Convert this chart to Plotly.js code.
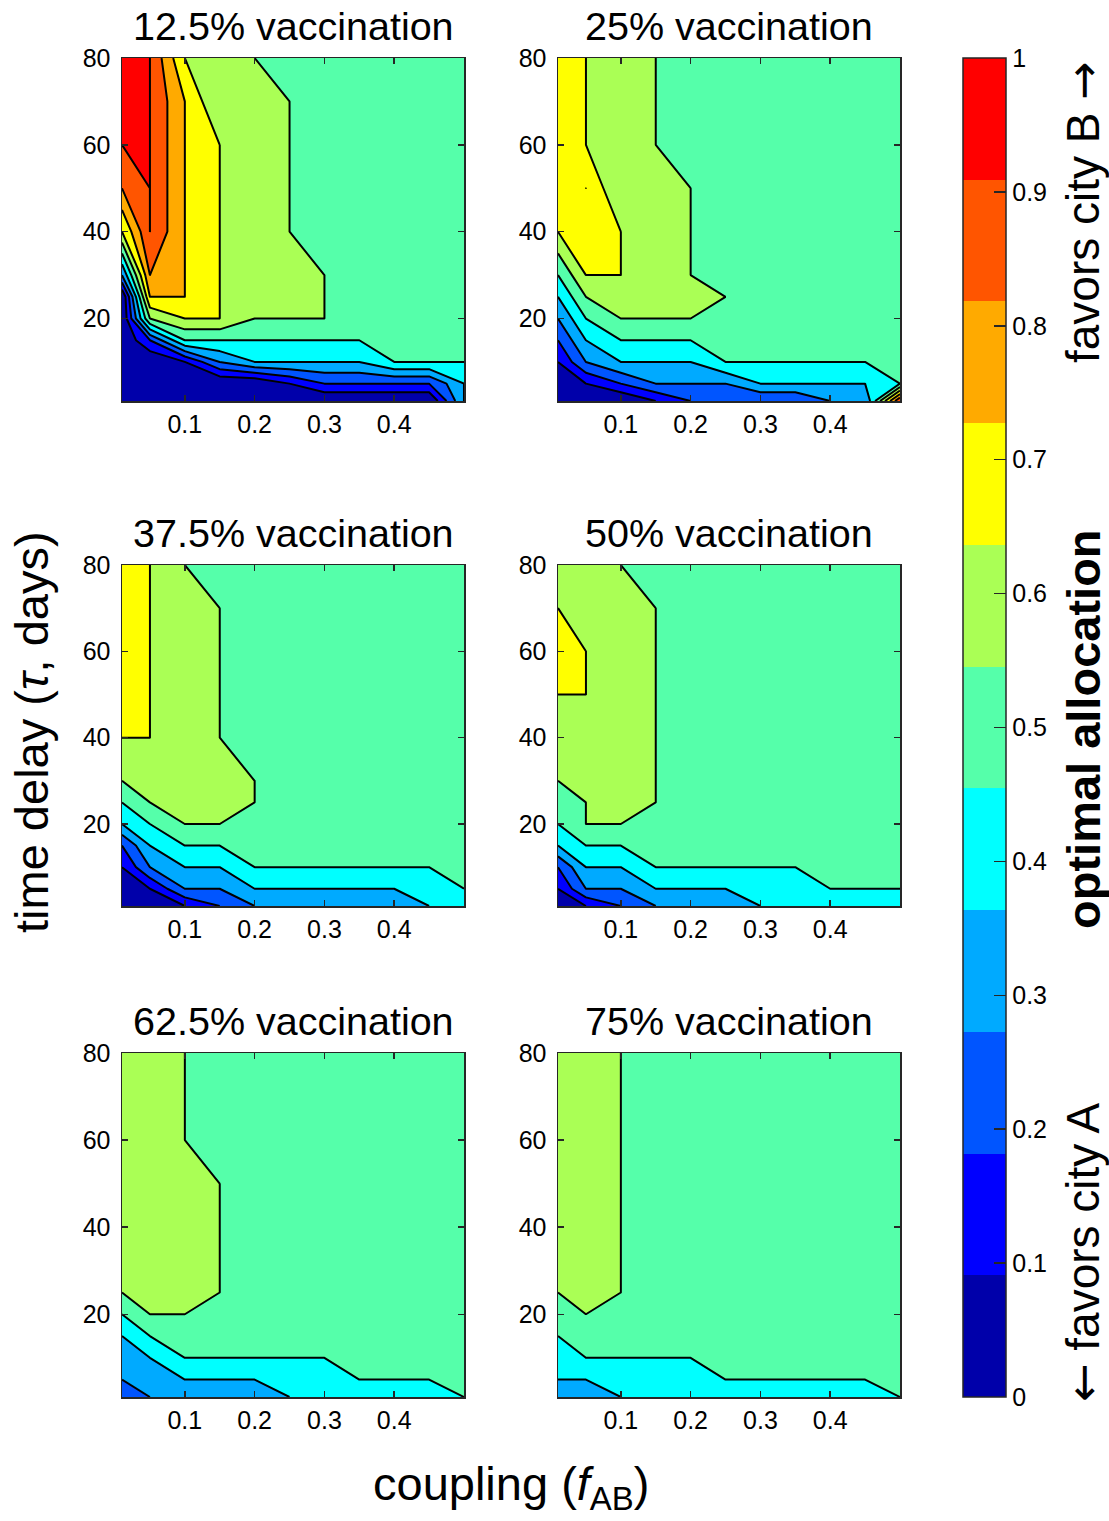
<!DOCTYPE html>
<html>
<head>
<meta charset="utf-8">
<script src="https://cdn.plot.ly/plotly-3.0.1.min.js"></script>
<style>html,body{margin:0;padding:0;background:#fff;}#chart{width:1109px;height:1521px;}</style>
</head>
<body>
<div id="chart"></div>
<script>
// grid: coupling f_AB (columns) and time delay tau in days (rows, bottom to top)
const coupling = [0.01, 0.05, 0.1, 0.15, 0.2, 0.25, 0.3, 0.35, 0.4, 0.45, 0.5];
const delay = [1, 5, 10, 15, 20, 25, 30, 40, 50, 60, 70, 80];
const panelTitles = ['12.5% vaccination', '25% vaccination', '37.5% vaccination', '50% vaccination', '62.5% vaccination', '75% vaccination'];
const cbTickVals = [0, 0.1, 0.2, 0.3, 0.4, 0.5, 0.6, 0.7, 0.8, 0.9, 1];
const cbTickText = ['0', '0.1', '0.2', '0.3', '0.4', '0.5', '0.6', '0.7', '0.8', '0.9', '1'];
const xTicks = [0.1, 0.2, 0.3, 0.4];
const yTicks = [20, 40, 60, 80];

// optimal allocation (rows: delay 1..80, columns: coupling 0.01..0.5)
const alloc125 = [
  [0,0,0,0,0,0,0,0,0,0,0.4],
  [0,0,0,0,0,0.1,0.2,0.2,0.2,0.2,0.4],
  [0,0,0.1,0.3,0.4,0.4,0.4,0.4,0.5,0.5,0.5],
  [0,0.2,0.5,0.5,0.5,0.5,0.5,0.5,0.5,0.5,0.5],
  [0,0.6,0.7,0.7,0.6,0.6,0.6,0.5,0.5,0.5,0.5],
  [0,0.8,0.8,0.7,0.6,0.6,0.6,0.5,0.5,0.5,0.5],
  [0.3,0.9,0.8,0.7,0.6,0.6,0.6,0.5,0.5,0.5,0.5],
  [0.7,1,0.8,0.7,0.6,0.6,0.5,0.5,0.5,0.5,0.5],
  [0.9,1,0.8,0.7,0.6,0.6,0.5,0.5,0.5,0.5,0.5],
  [1,1,0.8,0.7,0.6,0.6,0.5,0.5,0.5,0.5,0.5],
  [1,1,0.8,0.6,0.6,0.6,0.5,0.5,0.5,0.5,0.5],
  [1,1,0.7,0.6,0.6,0.5,0.5,0.5,0.5,0.5,0.5]
];
const alloc25 = [
  [0,0,0,0.1,0.2,0.2,0.2,0.2,0.3,0.3,1],
  [0,0.1,0.2,0.3,0.3,0.3,0.4,0.4,0.4,0.4,0.5],
  [0.1,0.3,0.4,0.4,0.4,0.5,0.5,0.5,0.5,0.5,0.5],
  [0.2,0.4,0.5,0.5,0.5,0.5,0.5,0.5,0.5,0.5,0.5],
  [0.3,0.5,0.6,0.6,0.6,0.5,0.5,0.5,0.5,0.5,0.5],
  [0.4,0.6,0.6,0.6,0.6,0.6,0.5,0.5,0.5,0.5,0.5],
  [0.5,0.7,0.7,0.6,0.6,0.5,0.5,0.5,0.5,0.5,0.5],
  [0.7,0.7,0.7,0.6,0.6,0.5,0.5,0.5,0.5,0.5,0.5],
  [0.7,0.8,0.6,0.6,0.6,0.5,0.5,0.5,0.5,0.5,0.5],
  [0.7,0.7,0.6,0.6,0.5,0.5,0.5,0.5,0.5,0.5,0.5],
  [0.7,0.7,0.6,0.6,0.5,0.5,0.5,0.5,0.5,0.5,0.5],
  [0.7,0.7,0.6,0.6,0.5,0.5,0.5,0.5,0.5,0.5,0.5]
];
const alloc375 = [
  [0,0,0.1,0.2,0.3,0.3,0.3,0.3,0.3,0.4,0.4],
  [0,0.1,0.3,0.3,0.4,0.4,0.4,0.4,0.4,0.4,0.5],
  [0.1,0.3,0.4,0.4,0.5,0.5,0.5,0.5,0.5,0.5,0.5],
  [0.2,0.4,0.5,0.5,0.5,0.5,0.5,0.5,0.5,0.5,0.5],
  [0.4,0.5,0.6,0.6,0.5,0.5,0.5,0.5,0.5,0.5,0.5],
  [0.5,0.6,0.6,0.6,0.6,0.5,0.5,0.5,0.5,0.5,0.5],
  [0.6,0.6,0.6,0.6,0.6,0.5,0.5,0.5,0.5,0.5,0.5],
  [0.7,0.7,0.6,0.6,0.5,0.5,0.5,0.5,0.5,0.5,0.5],
  [0.7,0.7,0.6,0.6,0.5,0.5,0.5,0.5,0.5,0.5,0.5],
  [0.7,0.7,0.6,0.6,0.5,0.5,0.5,0.5,0.5,0.5,0.5],
  [0.7,0.7,0.6,0.6,0.5,0.5,0.5,0.5,0.5,0.5,0.5],
  [0.7,0.7,0.6,0.5,0.5,0.5,0.5,0.5,0.5,0.5,0.5]
];
const alloc50 = [
  [0,0.1,0.2,0.3,0.3,0.3,0.4,0.4,0.4,0.4,0.4],
  [0.1,0.3,0.3,0.4,0.4,0.4,0.4,0.4,0.5,0.5,0.5],
  [0.2,0.4,0.4,0.5,0.5,0.5,0.5,0.5,0.5,0.5,0.5],
  [0.4,0.5,0.5,0.5,0.5,0.5,0.5,0.5,0.5,0.5,0.5],
  [0.5,0.6,0.6,0.5,0.5,0.5,0.5,0.5,0.5,0.5,0.5],
  [0.5,0.6,0.6,0.6,0.5,0.5,0.5,0.5,0.5,0.5,0.5],
  [0.6,0.6,0.6,0.6,0.5,0.5,0.5,0.5,0.5,0.5,0.5],
  [0.6,0.6,0.6,0.6,0.5,0.5,0.5,0.5,0.5,0.5,0.5],
  [0.7,0.7,0.6,0.6,0.5,0.5,0.5,0.5,0.5,0.5,0.5],
  [0.7,0.7,0.6,0.6,0.5,0.5,0.5,0.5,0.5,0.5,0.5],
  [0.7,0.6,0.6,0.6,0.5,0.5,0.5,0.5,0.5,0.5,0.5],
  [0.6,0.6,0.6,0.5,0.5,0.5,0.5,0.5,0.5,0.5,0.5]
];
const alloc625 = [
  [0.2,0.3,0.3,0.3,0.3,0.4,0.4,0.4,0.4,0.4,0.5],
  [0.3,0.3,0.4,0.4,0.4,0.4,0.4,0.5,0.5,0.5,0.5],
  [0.3,0.4,0.5,0.5,0.5,0.5,0.5,0.5,0.5,0.5,0.5],
  [0.4,0.5,0.5,0.5,0.5,0.5,0.5,0.5,0.5,0.5,0.5],
  [0.5,0.6,0.6,0.5,0.5,0.5,0.5,0.5,0.5,0.5,0.5],
  [0.6,0.6,0.6,0.6,0.5,0.5,0.5,0.5,0.5,0.5,0.5],
  [0.6,0.6,0.6,0.6,0.5,0.5,0.5,0.5,0.5,0.5,0.5],
  [0.6,0.6,0.6,0.6,0.5,0.5,0.5,0.5,0.5,0.5,0.5],
  [0.6,0.6,0.6,0.6,0.5,0.5,0.5,0.5,0.5,0.5,0.5],
  [0.6,0.6,0.6,0.5,0.5,0.5,0.5,0.5,0.5,0.5,0.5],
  [0.6,0.6,0.6,0.5,0.5,0.5,0.5,0.5,0.5,0.5,0.5],
  [0.6,0.6,0.6,0.5,0.5,0.5,0.5,0.5,0.5,0.5,0.5]
];
const alloc75 = [
  [0.3,0.3,0.4,0.4,0.4,0.4,0.4,0.4,0.4,0.4,0.5],
  [0.4,0.4,0.4,0.4,0.4,0.5,0.5,0.5,0.5,0.5,0.5],
  [0.4,0.5,0.5,0.5,0.5,0.5,0.5,0.5,0.5,0.5,0.5],
  [0.5,0.5,0.5,0.5,0.5,0.5,0.5,0.5,0.5,0.5,0.5],
  [0.5,0.6,0.5,0.5,0.5,0.5,0.5,0.5,0.5,0.5,0.5],
  [0.6,0.6,0.6,0.5,0.5,0.5,0.5,0.5,0.5,0.5,0.5],
  [0.6,0.6,0.6,0.5,0.5,0.5,0.5,0.5,0.5,0.5,0.5],
  [0.6,0.6,0.6,0.5,0.5,0.5,0.5,0.5,0.5,0.5,0.5],
  [0.6,0.6,0.6,0.5,0.5,0.5,0.5,0.5,0.5,0.5,0.5],
  [0.6,0.6,0.6,0.5,0.5,0.5,0.5,0.5,0.5,0.5,0.5],
  [0.6,0.6,0.6,0.5,0.5,0.5,0.5,0.5,0.5,0.5,0.5],
  [0.6,0.6,0.6,0.5,0.5,0.5,0.5,0.5,0.5,0.5,0.5]
];
const panels = [alloc125, alloc25, alloc375, alloc50, alloc625, alloc75];

// jet(11) colours
const jet11 = ['rgb(0,0,170)','rgb(0,0,255)','rgb(0,85,255)','rgb(0,170,255)','rgb(0,255,255)',
  'rgb(85,255,170)','rgb(170,255,85)','rgb(255,255,0)','rgb(255,170,0)','rgb(255,85,0)','rgb(255,0,0)'];

const W = 1109, H = 1521;
const px = v => v / W;
const py = v => 1 - v / H;

// panel pixel boxes [left, right, top, bottom]
const boxes = [
  [122, 464, 58, 401], [558, 900, 58, 401],
  [122, 464, 565, 906], [558, 900, 565, 906],
  [122, 464, 1053, 1397], [558, 900, 1053, 1397]
];

const contourScale = jet11.map((c, i) => [i / 10, c]);
const stepScale = [];
jet11.forEach((c, i) => { stepScale.push([i / 11, c]); stepScale.push([(i + 1) / 11, c]); });

const FONT = '"Liberation Sans", Arial, Helvetica, sans-serif';
const ARROW = '<span style="font-family:\'DejaVu Sans\'">';
const data = [];
const layout = {
  width: W, height: H,
  margin: {l: 0, r: 0, t: 0, b: 0},
  paper_bgcolor: '#ffffff', plot_bgcolor: '#ffffff',
  font: {family: FONT, color: '#000'},
  showlegend: false,
  annotations: []
};

panels.forEach((z, i) => {
  const n = i + 1;
  const xa = 'x' + (n === 1 ? '' : n), ya = 'y' + (n === 1 ? '' : n);
  data.push({
    type: 'contour', x: coupling, y: delay, z: z,
    xaxis: xa, yaxis: ya,
    autocontour: false,
    contours: {start: 0.0999, end: 0.9999, size: 0.1, coloring: 'fill', showlines: true},
    line: {color: '#000', width: 2, smoothing: 0},
    colorscale: contourScale,
    showscale: false, hoverinfo: 'skip'
  });
  const b = boxes[i];
  const axCommon = {
    showline: true, linecolor: '#262626', linewidth: 1.5, mirror: 'ticks',
    ticks: 'inside', ticklen: 6, tickwidth: 1.5, tickcolor: '#262626',
    showgrid: false, zeroline: false, fixedrange: true,
    tickfont: {size: 25, family: FONT, color: '#000'}
  };
  layout['xaxis' + (n === 1 ? '' : n)] = Object.assign({}, axCommon, {
    domain: [px(b[0]), px(b[1])], anchor: ya, range: [0.01, 0.5],
    tickvals: xTicks, ticktext: xTicks.map(String), ticklabelstandoff: 0
  });
  layout['yaxis' + (n === 1 ? '' : n)] = Object.assign({}, axCommon, {
    domain: [py(b[3]), py(b[2])], anchor: xa, range: [1, 80],
    tickvals: yTicks, ticktext: yTicks.map(String), ticklabelstandoff: 5
  });
  layout.annotations.push({
    text: panelTitles[i], xref: 'paper', yref: 'paper',
    x: px((b[0] + b[1]) / 2), y: py(b[2] - 32), xanchor: 'center', yanchor: 'middle',
    showarrow: false, font: {size: 39.5, family: FONT, color: '#000'}
  });
});

// colour bar carrier (off-screen heatmap)
data.push({
  type: 'heatmap', z: [[0, 1]], x: [0, 1], y: [0], xaxis: 'x7', yaxis: 'y7',
  zmin: 0, zmax: 1, colorscale: stepScale, hoverinfo: 'skip',
  showscale: true,
  colorbar: {
    thickness: 43, thicknessmode: 'pixels', len: 1339, lenmode: 'pixels',
    x: px(963), xanchor: 'left', y: py(727.5), yanchor: 'middle',
    xpad: 0, ypad: 0, outlinewidth: 1.5, outlinecolor: '#262626',
    ticks: 'inside', ticklen: 12, tickwidth: 1.5, tickcolor: '#262626',
    tickvals: cbTickVals, ticktext: cbTickText,
    tickfont: {size: 25, family: FONT, color: '#000'}
  }
});
layout.xaxis7 = {domain: [0, 0.01], range: [100, 101], visible: false, anchor: 'y7'};
layout.yaxis7 = {domain: [0, 0.01], range: [100, 101], visible: false, anchor: 'x7'};

layout.annotations.push(
  {text: 'time delay (<i>τ</i>, days)', xref: 'paper', yref: 'paper', x: px(31), y: py(732),
   xanchor: 'center', yanchor: 'middle', textangle: -90, showarrow: false,
   font: {size: 47, family: FONT, color: '#000'}},
  {text: 'coupling (<i>f</i><sub>AB</sub>)', xref: 'paper', yref: 'paper', x: px(511), y: py(1487),
   xanchor: 'center', yanchor: 'middle', showarrow: false,
   font: {size: 47, family: FONT, color: '#000'}},
  {text: 'favors city B ' + ARROW + '→</span>', xref: 'paper', yref: 'paper', x: px(1083), y: py(212),
   xanchor: 'center', yanchor: 'middle', textangle: -90, showarrow: false,
   font: {size: 46, family: FONT, color: '#000'}},
  {text: '<b>optimal allocation</b>', xref: 'paper', yref: 'paper', x: px(1083), y: py(729),
   xanchor: 'center', yanchor: 'middle', textangle: -90, showarrow: false,
   font: {size: 47, family: FONT, color: '#000'}},
  {text: ARROW + '←</span> favors city A', xref: 'paper', yref: 'paper', x: px(1083), y: py(1252),
   xanchor: 'center', yanchor: 'middle', textangle: -90, showarrow: false,
   font: {size: 46, family: FONT, color: '#000'}}
);

Plotly.newPlot('chart', data, layout, {staticPlot: true, displayModeBar: false});
</script>
</body>
</html>
